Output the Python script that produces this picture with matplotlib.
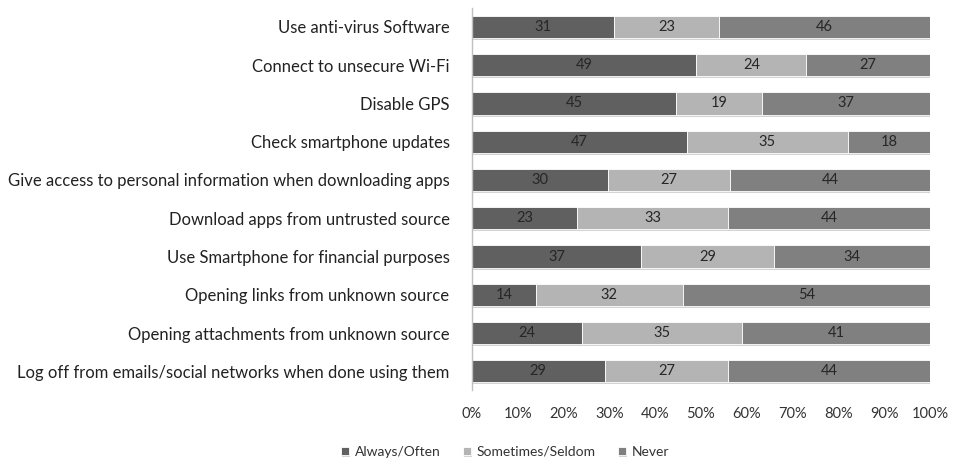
import matplotlib
matplotlib.use("Agg")
import matplotlib.pyplot as plt
import matplotlib.patheffects as pe
import numpy as np

plt.rcParams['font.family'] = ['Lato', 'DejaVu Sans']

categories = [
    "Use anti-virus Software",
    "Connect to unsecure Wi-Fi",
    "Disable GPS",
    "Check smartphone updates",
    "Give access to personal information when downloading apps",
    "Download apps from untrusted source",
    "Use Smartphone for financial purposes",
    "Opening links from unknown source",
    "Opening attachments from unknown source",
    "Log off from emails/social networks when done using them",
]
always = [31, 49, 45, 47, 30, 23, 37, 14, 24, 29]
sometimes = [23, 24, 19, 35, 27, 33, 29, 32, 35, 27]
never = [46, 27, 37, 18, 44, 44, 34, 54, 41, 44]
series_names = ["Always/Often", "Sometimes/Seldom", "Never"]
colors = ["#606060", "#b4b4b4", "#808080"]
xticks = [0, 10, 20, 30, 40, 50, 60, 70, 80, 90, 100]

fig = plt.figure(figsize=(9.55, 4.62), dpi=100)
ax = fig.add_axes([0.494, 0.155, 0.480, 0.828])

n = len(categories)
y = np.arange(n)
left = np.zeros(n)
tot = np.array(always) + np.array(sometimes) + np.array(never)
shadow = [pe.SimplePatchShadow(offset=(0.8, -1.5), shadow_rgbFace="#c8c8c8", alpha=0.8), pe.Normal()]
for vals, name, c in zip([always, sometimes, never], series_names, colors):
    vals = np.array(vals, dtype=float)
    w = vals / tot * 100
    bars = ax.barh(y, w, left=left, height=0.58, color=c, label=name,
                   edgecolor="white", linewidth=0.6)
    for b in bars:
        b.set_path_effects(shadow)
    for yi, l, wi, v in zip(y, left, w, vals):
        ax.text(l + wi / 2, yi, f"{int(v)}", ha="center", va="center",
                fontsize=10.5, color="#262626")
    left = left + w

ax.set_ylim(n - 0.5, -0.5)
ax.set_xlim(0, 100)
ax.set_yticks(y)
ax.set_yticklabels(categories, fontsize=12, color="#222222")
ax.set_xticks(xticks)
ax.set_xticklabels([f"{t}%" for t in xticks], fontsize=10.5, color="#333333")
ax.tick_params(axis="both", length=0)
ax.tick_params(axis="x", pad=12)
ax.tick_params(axis="y", pad=16)
for s in ["top", "right", "bottom"]:
    ax.spines[s].set_visible(False)
ax.spines["left"].set_color("#bfbfbf")
ax.spines["left"].set_linewidth(1)

handles, labels = ax.get_legend_handles_labels()
fig.legend(handles, labels, loc="center", bbox_to_anchor=(0.529, 0.022), ncol=3,
           frameon=False, fontsize=10, handlelength=0.6, handleheight=0.6,
           handletextpad=0.4, columnspacing=1.6, labelcolor="#333333")

fig.savefig("out.png", dpi=100)
